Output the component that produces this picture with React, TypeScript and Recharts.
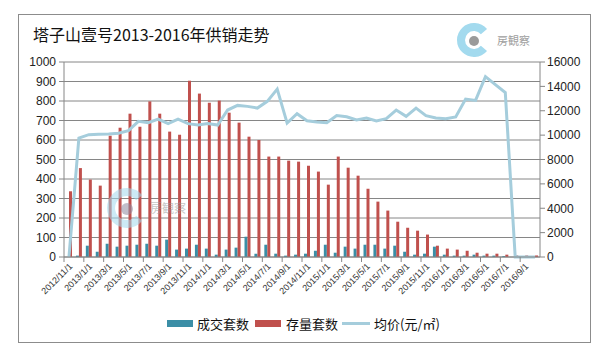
import { ComposedChart, Bar, Line, XAxis, YAxis, CartesianGrid } from "recharts";

const months = [
  "2012/11/1", "2012/12/1",
  "2013/1/1", "2013/2/1", "2013/3/1", "2013/4/1", "2013/5/1", "2013/6/1",
  "2013/7/1", "2013/8/1", "2013/9/1", "2013/10/1", "2013/11/1", "2013/12/1",
  "2014/1/1", "2014/2/1", "2014/3/1", "2014/4/1", "2014/5/1", "2014/6/1",
  "2014/7/1", "2014/8/1", "2014/9/1", "2014/10/1", "2014/11/1", "2014/12/1",
  "2015/1/1", "2015/2/1", "2015/3/1", "2015/4/1", "2015/5/1", "2015/6/1",
  "2015/7/1", "2015/8/1", "2015/9/1", "2015/10/1", "2015/11/1", "2015/12/1",
  "2016/1/1", "2016/2/1", "2016/3/1", "2016/4/1", "2016/5/1", "2016/6/1",
  "2016/7/1", "2016/8/1", "2016/9/1", "2016/10/1",
];

// 成交套数
const soldUnits = [
  0, 7, 58, 27, 68, 53, 58, 63, 68, 58, 89, 38,
  43, 63, 43, 12, 38, 48, 104, 17, 63, 17, 7, 12,
  17, 32, 63, 22, 53, 43, 63, 63, 43, 58, 27, 12,
  17, 53, 12, 7, 7, 12, 7, 7, 5, 0, 0, 0,
];

// 存量套数
const stockUnits = [
  337, 456, 397, 366, 622, 663, 735, 668, 798, 735, 643, 627,
  904, 838, 791, 802, 740, 689, 617, 600, 515, 515, 494, 489,
  468, 438, 371, 515, 458, 417, 350, 284, 238, 181, 150, 135,
  115, 58, 43, 38, 32, 22, 17, 17, 12, 8, 8, 8,
];

// 均价(元/㎡)
const avgPrice = [
  0, 9760, 10035, 10070, 10100, 10150, 10370, 11130, 11020, 11320, 10940, 11320,
  10940, 10830, 10960, 10830, 12060, 12440, 12360, 12220, 12770, 13780, 10990, 11760,
  11180, 11080, 11020, 11600, 11510, 11240, 11400, 11160, 11350, 12060, 11540, 12220,
  11600, 11400, 11350, 11490, 12960, 12850, 14800, 14140, 13490, 0, 0, 0,
];

const leftTicks = [0, 100, 200, 300, 400, 500, 600, 700, 800, 900, 1000];
const rightTicks = [0, 2000, 4000, 6000, 8000, 10000, 12000, 14000, 16000];

const data = months.map((month, i) => ({
  month,
  sold: soldUnits[i],
  stock: stockUnits[i],
  price: avgPrice[i],
}));

const BLUE = "#3B8EA6";
const RED = "#C0504D";
const LINE = "#A5CDDC";
const GRID = "#868686";

const MonthTick = (props: any) => {
  const { x, y, payload } = props;
  const step = 476 / months.length;
  const tx = x + 4;
  const ty = y + 10;
  return (
    <g>
      <line x1={x - step / 2} y1={y} x2={x - step / 2} y2={y + 5} stroke={GRID} />
      <text x={tx} y={ty} textAnchor="end" fontSize={9} fill="#333" transform={`rotate(-45 ${tx} ${ty})`}>
        {payload.value}
      </text>
    </g>
  );
};

const arc = (cx: number, cy: number, r: number) => {
  const a = (40 * Math.PI) / 180;
  const dx = r * Math.cos(a);
  const dy = r * Math.sin(a);
  return `M ${cx + dx} ${cy - dy} A ${r} ${r} 0 1 0 ${cx + dx} ${cy + dy}`;
};

export default function App() {
  return (
    <div
      style={{
        position: "absolute",
        left: 0,
        top: 0,
        width: 615,
        height: 356,
        background: "#fff",
        fontFamily: "'Liberation Sans', 'Noto Sans CJK SC', sans-serif",
      }}
    >
      <div
        style={{
          position: "absolute",
          left: 18,
          top: 14,
          width: 573,
          height: 329,
          border: "1px solid #8c8c8c",
          boxSizing: "border-box",
        }}
      />
      <div
        style={{
          position: "absolute",
          left: 33,
          top: 22,
          fontSize: 16,
          color: "#111",
          fontFamily: "'Noto Sans CJK SC', sans-serif",
          whiteSpace: "nowrap",
        }}
      >
        塔子山壹号2013-2016年供销走势
      </div>
      <div style={{ position: "absolute", left: 0, top: 0 }}>
        <ComposedChart
          width={615}
          height={356}
          data={data}
          margin={{ top: 62, right: 0, bottom: 59, left: 0 }}
          barGap={0}
        >
          <CartesianGrid yAxisId="left" vertical={false} stroke={GRID} strokeWidth={1} />
          <XAxis
            dataKey="month"
            interval={1}
            height={40}
            tickLine={false}
            tickSize={0}
            tickMargin={0}
            axisLine={{ stroke: GRID }}
            tick={<MonthTick />}
          />
          <YAxis
            yAxisId="left"
            domain={[0, 1000]}
            ticks={leftTicks}
            interval={0}
            width={64}
            tickSize={5}
            tickMargin={3}
            axisLine={{ stroke: GRID }}
            tickLine={{ stroke: GRID }}
            tick={{ fill: "#222", fontSize: 12 }}
          />
          <YAxis
            yAxisId="right"
            orientation="right"
            domain={[0, 16000]}
            ticks={rightTicks}
            interval={0}
            width={75}
            tickSize={5}
            tickMargin={2}
            axisLine={{ stroke: GRID }}
            tickLine={{ stroke: GRID }}
            tick={{ fill: "#222", fontSize: 12 }}
          />
          <Bar yAxisId="left" dataKey="sold" name="成交套数" fill={BLUE} barSize={3} isAnimationActive={false} />
          <Bar yAxisId="left" dataKey="stock" name="存量套数" fill={RED} barSize={3} isAnimationActive={false} />
          <Line
            yAxisId="right"
            type="linear"
            dataKey="price"
            name="均价(元/㎡)"
            stroke={LINE}
            strokeWidth={3}
            dot={false}
            isAnimationActive={false}
          />
        </ComposedChart>
      </div>
      <svg
        width={615}
        height={356}
        style={{ position: "absolute", left: 0, top: 0, pointerEvents: "none" }}
      >
        <path d={arc(474, 40, 13)} fill="none" stroke="#A3DAEE" strokeWidth={8} />
        <circle cx={474} cy={41} r={5} fill="#9a9a9a" />
        <text x={497} y={45} fontSize={11} fill="#a0a0a0" fontFamily="'Noto Sans CJK JP', sans-serif">
          房観察
        </text>
        <g opacity={0.55}>
          <path d={arc(127, 208, 16)} fill="none" stroke="#A3DAEE" strokeWidth={8} />
          <circle cx={127} cy={209} r={6} fill="#8f8aa0" />
          <text x={150} y={213} fontSize={12} fill="#9a9a9a" fontFamily="'Noto Sans CJK JP', sans-serif">
            房観察
          </text>
        </g>
      </svg>
      <div
        style={{
          position: "absolute",
          left: 167,
          top: 314,
          display: "flex",
          alignItems: "center",
          fontSize: 13,
          color: "#111",
          fontFamily: "'Noto Sans CJK SC', sans-serif",
          whiteSpace: "nowrap",
        }}
      >
        <span style={{ display: "inline-block", width: 26, height: 7, background: BLUE, marginRight: 4 }} />
        <span style={{ marginRight: 6 }}>成交套数</span>
        <span style={{ display: "inline-block", width: 26, height: 7, background: RED, marginRight: 5 }} />
        <span style={{ marginRight: 4 }}>存量套数</span>
        <span style={{ display: "inline-block", width: 28, height: 3, background: LINE, marginRight: 4 }} />
        <span>均价(元/㎡)</span>
      </div>
    </div>
  );
}
